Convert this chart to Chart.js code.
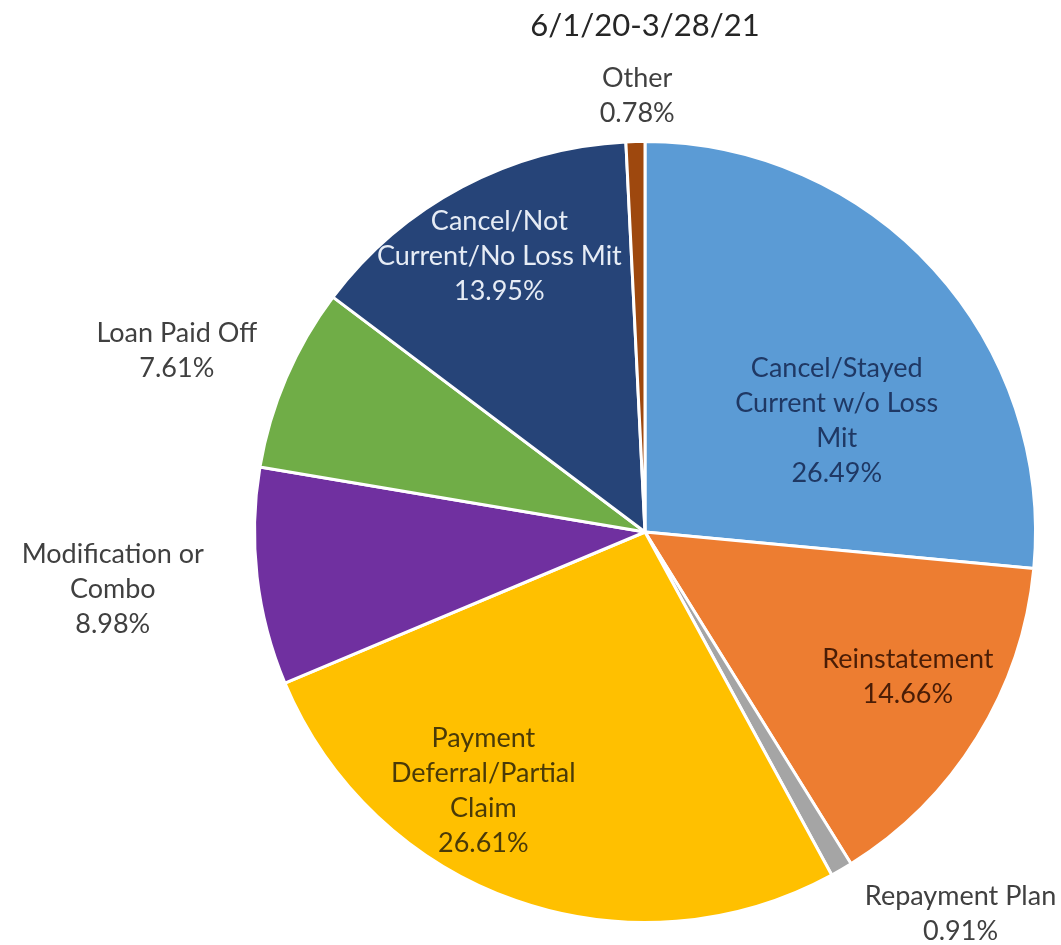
<!DOCTYPE html>
<html>
<head>
<meta charset="utf-8">
<script src="https://cdn.jsdelivr.net/npm/chart.js@4.4.1/dist/chart.umd.min.js"></script>
<style>
  html, body { margin: 0; padding: 0; background: #fff; }
  #wrap { width: 1061px; height: 945px; }
</style>
</head>
<body>
<div id="wrap"><canvas id="pie"></canvas></div>
<script>
// ---- data ----
const chartTitle = "6/1/20-3/28/21";
const categories = [
  ["Cancel/Stayed", "Current w/o Loss", "Mit"],
  ["Reinstatement"],
  ["Repayment Plan"],
  ["Payment", "Deferral/Partial", "Claim"],
  ["Modification or", "Combo"],
  ["Loan Paid Off"],
  ["Cancel/Not", "Current/No Loss Mit"],
  ["Other"]
];
const shares = [26.49, 14.66, 0.91, 26.61, 8.98, 7.61, 13.95, 0.78];

// ---- styling ----
const sliceColors = ["#5B9BD5", "#ED7D31", "#A5A5A5", "#FFC000", "#7030A0", "#70AD47", "#264478", "#9E480E"];
const labelColors = ["#1F3864", "#4A1D06", "#404040", "#4A3A08", "#404040", "#404040", "#E6ECF5", "#404040"];
// label block centre, relative to pie centre, in units of the radius
const labelSpots = [
  [0.491, -0.286], [0.673, 0.371], [0.808, 0.977], [-0.414, 0.662],
  [-1.363, 0.146], [-1.199, -0.463], [-0.373, -0.706], [-0.020, -1.118]
];
const FONT = "Lato, 'Open Sans', sans-serif";
const LABEL_SIZE = 27;
const LINE_H = 35;

// draws "name / xx.xx%" for every slice
const sliceLabels = {
  id: "sliceLabels",
  afterDatasetsDraw(chart) {
    const ctx = chart.ctx;
    const arcs = chart.getDatasetMeta(0).data;
    ctx.save();
    ctx.font = `${LABEL_SIZE}px ${FONT}`;
    ctx.textAlign = "center";
    ctx.textBaseline = "middle";
    arcs.forEach((arc, i) => {
      const r = arc.outerRadius;
      const cx = arc.x + labelSpots[i][0] * r;
      const cy = arc.y + labelSpots[i][1] * r;
      const lines = categories[i].concat([shares[i].toFixed(2) + "%"]);
      const top = cy - (lines.length - 1) * LINE_H / 2;
      ctx.fillStyle = labelColors[i];
      lines.forEach((t, k) => ctx.fillText(t, cx, top + k * LINE_H));
    });
    ctx.restore();
  }
};

new Chart(document.getElementById("pie"), {
  type: "pie",
  data: {
    labels: categories,
    datasets: [{
      data: shares,
      backgroundColor: sliceColors,
      borderColor: "#ffffff",
      borderWidth: 3,
      hoverOffset: 0
    }]
  },
  options: {
    responsive: true,
    maintainAspectRatio: false,
    animation: false,
    layout: { padding: { left: 253, right: 24, top: 0, bottom: 21 } },
    plugins: {
      legend: { display: false },
      tooltip: { enabled: false },
      title: {
        display: true,
        text: chartTitle,
        color: "#262626",
        font: { family: FONT, size: 31, weight: "normal", lineHeight: 1.2 },
        padding: { top: 7, bottom: 95.8 }
      }
    }
  },
  plugins: [sliceLabels]
});
</script>
</body>
</html>
